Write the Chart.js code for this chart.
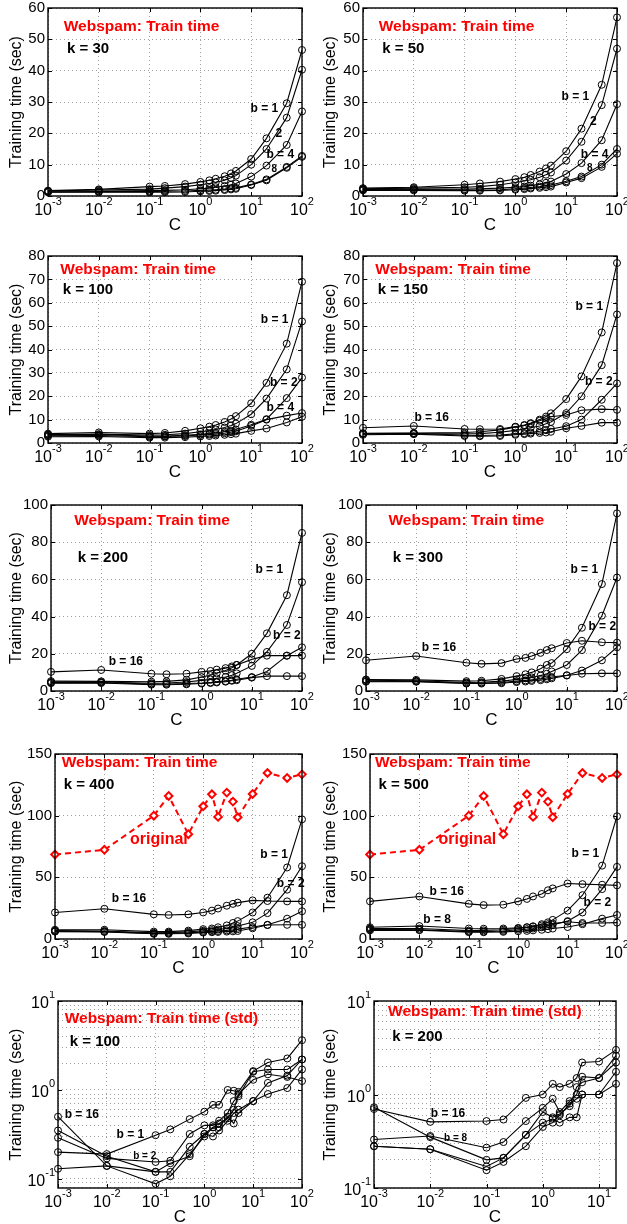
<!DOCTYPE html>
<html>
<head>
<meta charset="utf-8">
<script src="https://cdn.jsdelivr.net/npm/chart.js@4.4.1/dist/chart.umd.min.js"></script>
<style>
  body { margin: 0; background: #fff; width: 627px; height: 1224px; position: relative; overflow: hidden; }
  canvas { position: absolute; }
</style>
</head>
<body>
<script>
// ---- data ----
const C_VALUES = [0.001, 0.01, 0.1, 0.2, 0.5, 1, 1.5, 2, 3, 4, 5, 10, 20, 50, 100];
const C_VALUES_TO20 = [0.001, 0.01, 0.1, 0.2, 0.5, 1, 1.5, 2, 3, 4, 5, 10, 20];
const B_VALUES = [1, 2, 4, 8, 16];

// k = 30
const k30_b1  = [1.7, 2.1, 3.0, 3.2, 3.8, 4.5, 5.0, 5.5, 6.3, 7.2, 8.0, 11.8, 18.4, 29.6, 46.6];
const k30_b2  = [1.6, 1.9, 2.2, 2.5, 3.0, 3.6, 4.0, 4.3, 5.0, 5.8, 6.5, 10.0, 15.0, 25.0, 40.3];
const k30_b4  = [1.5, 1.6, 1.7, 1.8, 2.0, 2.3, 2.5, 2.8, 3.2, 3.6, 4.0, 6.2, 9.7, 16.3, 27.0];
const k30_b8  = [1.3, 1.4, 1.4, 1.5, 1.6, 1.8, 1.9, 2.0, 2.2, 2.4, 2.6, 3.7, 5.3, 9.3, 12.8];
const k30_b16 = [1.2, 1.2, 1.2, 1.2, 1.3, 1.5, 1.6, 1.7, 1.9, 2.1, 2.3, 3.5, 5.0, 9.0, 12.5];

// k = 50
const k50_b1  = [2.5, 2.8, 3.6, 4.0, 4.6, 5.4, 6.0, 6.7, 7.8, 8.8, 9.7, 14.3, 21.5, 35.5, 57.0];
const k50_b2  = [2.3, 2.5, 2.8, 3.0, 3.6, 4.3, 4.8, 5.2, 6.0, 6.8, 7.5, 11.3, 17.3, 29.0, 47.0];
const k50_b4  = [2.1, 2.2, 2.2, 2.3, 2.5, 2.8, 3.0, 3.3, 3.7, 4.2, 4.6, 7.0, 10.5, 17.8, 29.3];
const k50_b8  = [2.0, 2.0, 1.9, 1.9, 2.0, 2.3, 2.5, 2.7, 3.0, 3.3, 3.5, 4.7, 6.2, 10.0, 15.0];
const k50_b16 = [1.8, 1.8, 1.7, 1.7, 1.8, 2.0, 2.2, 2.4, 2.6, 2.8, 3.0, 4.3, 5.7, 9.3, 13.5];

// k = 100
const k100_b1  = [4.0, 4.5, 4.0, 4.3, 5.2, 6.3, 7.0, 7.7, 9.0, 10.3, 11.5, 17.0, 25.7, 42.5, 69.0];
const k100_b2  = [3.6, 3.8, 3.4, 3.5, 4.0, 4.8, 5.3, 5.8, 6.6, 7.5, 8.3, 12.3, 19.0, 31.5, 52.0];
const k100_b4  = [3.4, 3.5, 3.0, 3.0, 3.3, 3.7, 4.0, 4.3, 4.8, 5.3, 5.8, 7.8, 10.2, 19.2, 28.0];
const k100_b8  = [3.1, 3.2, 2.7, 2.8, 3.0, 3.4, 3.6, 3.8, 4.2, 4.6, 5.0, 7.3, 10.0, 11.7, 12.8];
const k100_b16 = [2.7, 2.8, 2.3, 2.3, 2.5, 2.8, 3.0, 3.2, 3.5, 3.8, 4.0, 5.2, 6.2, 8.8, 11.2];

// k = 150
const k150_b1  = [4.2, 4.3, 4.5, 4.8, 5.6, 6.8, 7.7, 8.5, 10.0, 11.3, 12.7, 18.8, 28.5, 47.3, 77.0];
const k150_b2  = [3.9, 3.9, 3.9, 4.0, 4.6, 5.4, 6.0, 6.5, 7.3, 8.2, 9.0, 12.8, 20.0, 33.3, 55.0];
const k150_b4  = [4.0, 4.2, 3.3, 3.2, 3.4, 3.9, 4.2, 4.5, 5.0, 5.5, 6.0, 7.2, 10.0, 18.5, 25.5];
const k150_b8  = [3.5, 3.8, 3.0, 2.9, 3.0, 3.5, 3.8, 4.0, 4.3, 4.5, 4.8, 6.3, 7.3, 8.7, 8.7];
const k150_b16 = [6.5, 7.3, 6.0, 5.9, 6.0, 7.0, 7.5, 8.2, 9.5, 10.5, 11.2, 12.0, 14.0, 14.5, 14.2];

// k = 200
const k200_b1  = [5.3, 5.2, 5.0, 5.2, 6.0, 7.5, 8.5, 9.5, 11.0, 12.5, 14.0, 20.0, 31.0, 51.5, 85.0];
const k200_b2  = [4.8, 4.8, 4.2, 4.3, 4.8, 5.7, 6.2, 6.8, 7.5, 8.5, 9.5, 13.5, 21.0, 35.5, 58.5];
const k200_b4  = [4.5, 4.5, 3.8, 3.8, 4.0, 4.3, 4.6, 4.9, 5.3, 5.8, 6.3, 7.5, 10.5, 19.0, 23.5];
const k200_b8  = [4.2, 4.3, 3.4, 3.4, 3.6, 4.0, 4.3, 4.6, 5.0, 5.5, 5.8, 7.2, 8.0, 8.0, 8.0];
const k200_b16 = [10.3, 11.3, 9.3, 9.0, 9.3, 10.3, 10.8, 11.5, 12.3, 13.2, 14.0, 17.0, 19.0, 19.0, 19.0];

// k = 300
const k300_b1  = [6.2, 6.0, 5.3, 5.5, 6.5, 8.0, 9.0, 10.0, 12.0, 14.0, 15.0, 22.5, 34.0, 57.5, 95.5];
const k300_b2  = [5.8, 5.5, 4.6, 4.7, 5.3, 6.2, 6.8, 7.3, 8.3, 9.3, 10.5, 14.0, 22.0, 40.5, 61.0];
const k300_b4  = [5.3, 5.2, 4.2, 4.3, 4.6, 5.3, 5.7, 6.0, 6.5, 7.0, 7.5, 8.5, 11.0, 16.5, 23.5];
const k300_b8  = [5.0, 5.0, 4.0, 4.0, 4.2, 4.8, 5.1, 5.4, 5.8, 6.3, 6.8, 8.3, 9.3, 9.5, 9.5];
const k300_b16 = [16.5, 18.8, 15.2, 14.6, 15.0, 17.2, 17.8, 18.8, 20.5, 22.0, 23.0, 25.8, 27.0, 26.2, 26.0];

// k = 400
const k400_b1  = [7.5, 7.5, 6.0, 6.0, 6.8, 8.0, 8.5, 9.5, 11.0, 13.0, 14.5, 21.5, 33.5, 58.0, 97.0];
const k400_b2  = [6.8, 6.5, 5.0, 5.2, 5.8, 6.7, 7.2, 7.7, 8.5, 9.5, 10.5, 13.5, 21.0, 40.0, 59.0];
const k400_b4  = [6.3, 6.0, 4.5, 4.6, 5.0, 5.8, 6.2, 6.5, 7.0, 7.5, 8.0, 9.7, 11.5, 16.5, 22.5];
const k400_b8  = [6.0, 5.7, 4.2, 4.2, 4.5, 5.2, 5.5, 5.7, 6.0, 6.2, 6.5, 8.7, 11.3, 11.5, 11.5];
const k400_b16 = [21.5, 24.5, 20.0, 19.5, 20.0, 21.5, 23.0, 24.7, 27.0, 28.5, 29.5, 31.3, 30.8, 30.5, 30.5];

// k = 500
const k500_b1  = [8.5, 8.5, 6.8, 7.0, 7.5, 8.5, 9.5, 10.3, 12.0, 13.5, 15.5, 23.0, 35.5, 59.5, 99.5];
const k500_b2  = [7.8, 7.5, 6.0, 6.0, 6.5, 7.5, 8.0, 8.5, 9.5, 10.5, 11.5, 14.5, 21.5, 40.5, 58.5];
const k500_b4  = [7.0, 7.2, 5.5, 5.5, 5.8, 6.3, 6.6, 7.0, 7.5, 8.0, 8.5, 9.7, 12.0, 16.5, 19.5];
const k500_b8  = [9.5, 10.5, 8.5, 8.3, 8.5, 9.0, 9.5, 10.0, 11.0, 12.0, 12.5, 14.0, 13.0, 13.0, 13.3];
const k500_b16 = [30.5, 34.5, 28.5, 27.5, 27.8, 30.5, 32.5, 34.5, 36.5, 39.5, 41.0, 45.0, 44.5, 44.0, 43.5];

// original (no hashing), shown in k = 400 and k = 500 panels
const original = [68.5, 72.3, 100, 116, 85, 107.6, 117.3, 99, 118.7, 111.4, 98.7, 117.6, 134.6, 130.6, 133.5];

// std, k = 100
const std100_b1  = [0.2, 0.19, 0.31, 0.36, 0.47, 0.57, 0.68, 0.68, 1.0, 0.98, 0.95, 1.63, 2.04, 2.26, 3.63];
const std100_b2  = [0.29, 0.17, 0.155, 0.16, 0.32, 0.4, 0.4, 0.45, 0.55, 0.75, 0.85, 1.6, 1.7, 1.7, 2.2];
const std100_b4  = [0.35, 0.18, 0.12, 0.12, 0.23, 0.32, 0.38, 0.38, 0.5, 0.42, 0.55, 0.75, 0.9, 1.05, 1.7];
const std100_b8  = [0.13, 0.14, 0.12, 0.15, 0.18, 0.32, 0.3, 0.35, 0.45, 0.55, 0.6, 0.75, 1.2, 1.45, 2.2];
const std100_b16 = [0.5, 0.14, 0.088, 0.107, 0.19, 0.30, 0.38, 0.42, 0.48, 0.6, 0.9, 1.3, 1.5, 1.4, 1.26];

// std, k = 200 (C up to 20)
const std200_b1  = [0.73, 0.35, 0.2, 0.21, 0.37, 0.65, 0.57, 0.62, 0.75, 1.2, 1.35, 1.5, 2.2];
const std200_b2  = [0.28, 0.26, 0.17, 0.21, 0.37, 0.5, 0.55, 0.5, 0.57, 0.57, 1.0, 1.0, 1.75];
const std200_b4  = [0.28, 0.26, 0.155, 0.19, 0.28, 0.45, 0.5, 0.6, 0.8, 0.9, 1.0, 1.0, 1.3];
const std200_b8  = [0.33, 0.36, 0.27, 0.31, 0.52, 0.72, 0.9, 0.65, 0.85, 1.0, 1.55, 1.5, 2.6];
const std200_b16 = [0.7, 0.51, 0.52, 0.54, 0.92, 1.0, 1.3, 1.2, 1.3, 1.5, 2.2, 2.25, 3.0];

const TITLE = 'Webspam: Train time';
const TITLE_STD = 'Webspam: Train time (std)';
const Y_TITLE = 'Training time (sec)';
const X_TITLE = 'C';

// ---- panels: layout + labels (label positions in data units) ----
const panels = [
  { col: 0, rect: [48, 8, 302, 196], x: C_VALUES, series: [k30_b1, k30_b2, k30_b4, k30_b8, k30_b16], yMax: 60, step: 10,
    notes: [['title', TITLE, 0.00204, 53.9], ['k', 'k = 30', 0.00237, 46.9], ['b', 'b = 1', 9.7, 28],
            ['b', '2', 30, 20], ['b', 'b = 4', 19.9, 13.2], ['bs', '8', 25, 8.4]] },
  { col: 1, rect: [363, 8, 617, 196], x: C_VALUES, series: [k50_b1, k50_b2, k50_b4, k50_b8, k50_b16], yMax: 60, step: 10,
    notes: [['title', TITLE, 0.00204, 53.9], ['k', 'k = 50', 0.0024, 46.9], ['b', 'b = 1', 8.1, 31.7],
            ['b', '2', 29.3, 23.7], ['b', 'b = 4', 19.4, 13.3], ['bs', '8', 25.6, 8.8]] },
  { col: 0, rect: [48, 256, 302, 443], x: C_VALUES, series: [k100_b1, k100_b2, k100_b4, k100_b8, k100_b16], yMax: 80, step: 10,
    notes: [['title', TITLE, 0.00175, 74.3], ['k', 'k = 100', 0.00195, 65.5], ['b', 'b = 1', 15.5, 52.7],
            ['b', 'b = 2', 23.4, 25.9], ['b', 'b = 4', 19.9, 14.9]] },
  { col: 1, rect: [363, 256, 617, 443], x: C_VALUES, series: [k150_b1, k150_b2, k150_b4, k150_b8, k150_b16], yMax: 80, step: 10,
    notes: [['title', TITLE, 0.00175, 74.3], ['k', 'k = 150', 0.00195, 65.5], ['b', 'b = 1', 15.2, 58.4],
            ['b', 'b = 2', 23.4, 26.3], ['b', 'b = 16', 0.0103, 10.7]] },
  { col: 0, rect: [51, 505, 302, 691], x: C_VALUES, series: [k200_b1, k200_b2, k200_b4, k200_b8, k200_b16], yMax: 100, step: 20,
    notes: [['title', TITLE, 0.0029, 91.4], ['k', 'k = 200', 0.0034, 71.6], ['b', 'b = 1', 11.8, 65.4],
            ['b', 'b = 2', 26.4, 29.6], ['b', 'b = 16', 0.0141, 15.6]] },
  { col: 1, rect: [366, 505, 617, 691], x: C_VALUES, series: [k300_b1, k300_b2, k300_b4, k300_b8, k300_b16], yMax: 100, step: 20,
    notes: [['title', TITLE, 0.0028, 91.4], ['k', 'k = 300', 0.0034, 71.6], ['b', 'b = 1', 11.8, 65.4],
            ['b', 'b = 2', 27, 34.5], ['b', 'b = 16', 0.0129, 23.3]] },
  { col: 0, rect: [55, 754, 302, 939], x: C_VALUES, series: [k400_b1, k400_b2, k400_b4, k400_b8, k400_b16], yMax: 150, step: 50, orig: true,
    notes: [['title', TITLE, 0.00137, 143], ['k', 'k = 400', 0.00151, 124.9], ['orig', 'original', 0.033, 80.9],
            ['b', 'b = 1', 14.3, 68.2], ['b', 'b = 2', 31, 44.5], ['b', 'b = 16', 0.0141, 32.4]] },
  { col: 1, rect: [370, 754, 617, 939], x: C_VALUES, series: [k500_b1, k500_b2, k500_b4, k500_b8, k500_b16], yMax: 150, step: 50, orig: true,
    notes: [['title', TITLE, 0.00126, 143], ['k', 'k = 500', 0.00148, 124.9], ['orig', 'original', 0.0244, 80.9],
            ['b', 'b = 1', 12, 69], ['b', 'b = 2', 21, 29.7], ['b', 'b = 16', 0.016, 38], ['b', 'b = 8', 0.012, 15.6]] },
  { col: 0, rect: [58, 1001, 302, 1188], x: C_VALUES, series: [std100_b1, std100_b2, std100_b4, std100_b8, std100_b16], log: true, yMin: 0.079, yMax: 10,
    notes: [['title', TITLE_STD, 0.00137, 6.34], ['k', 'k = 100', 0.00174, 3.47], ['b', 'b = 16', 0.00137, 0.525],
            ['b', 'b = 1', 0.0158, 0.313], ['bs', 'b = 2', 0.0347, 0.179]] },
  { col: 1, rect: [374, 1001, 616, 1188], x: C_VALUES_TO20, series: [std200_b1, std200_b2, std200_b4, std200_b8, std200_b16], log: true, yMin: 0.1, yMax: 10,
    notes: [['title', TITLE_STD, 0.00178, 7.73], ['k', 'k = 200', 0.0021, 4.12], ['b', 'b = 16', 0.0102, 0.627],
            ['bs', 'b = 8', 0.0176, 0.34]] }
];

// ---- drawing ----
const FONT = '"Liberation Sans", Arial, Helvetica, sans-serif';
Chart.defaults.font.family = FONT;
Chart.defaults.color = '#000';
Chart.defaults.animation = false;

const COLS = [[0, 314], [314, 313]];
const PAD_TOP = 10, X_AXIS_H = 42;

const NOTE_STYLE = {
  title: ['bold 15.5px', '#ff0000'],
  k:     ['bold 15px', '#000'],
  b:     ['bold 12px', '#000'],
  bs:    ['bold 10px', '#000'],
  orig:  ['bold 16px', '#ff0000']
};

function decades(min, max) {
  const out = [];
  for (let e = Math.floor(Math.log10(min)); e <= Math.ceil(Math.log10(max)); e++) {
    const v = Math.pow(10, e);
    if (v >= min * 0.999 && v <= max * 1.001) out.push(v);
  }
  return out;
}
function logGrid(min, max) {
  const out = [];
  for (let e = Math.floor(Math.log10(min)); e <= Math.ceil(Math.log10(max)); e++) {
    for (let m = 1; m <= 9; m++) {
      const v = m * Math.pow(10, e);
      if (v >= min * 0.999 && v <= max * 1.001) out.push(v);
    }
  }
  return out;
}

// "10" with a raised exponent
function drawPow(ctx, e, x, y, align) {
  const sup = String(e);
  ctx.font = '16px ' + FONT;
  const wb = ctx.measureText('10').width;
  ctx.font = '11px ' + FONT;
  const ws = ctx.measureText(sup).width;
  const x0 = align === 'center' ? x - (wb + ws) / 2 : x - (wb + ws);
  ctx.textAlign = 'left';
  ctx.textBaseline = 'middle';
  ctx.font = '16px ' + FONT;
  ctx.fillText('10', x0, y);
  ctx.font = '11px ' + FONT;
  ctx.fillText(sup, x0 + wb, y - 9);
}

const matlabAxes = {
  id: 'matlabAxes',
  afterDraw(chart) {
    const p = chart.options.plugins.matlabAxes;
    const {ctx, chartArea: a, scales} = chart;
    const xs = scales.x, ys = scales.y;
    ctx.save();
    ctx.fillStyle = '#000';
    ctx.strokeStyle = '#000';
    ctx.lineWidth = 1;
    // inward tick marks
    ctx.beginPath();
    decades(xs.min, xs.max).forEach(v => {
      const px = Math.round(xs.getPixelForValue(v)) + 0.5;
      ctx.moveTo(px, a.bottom); ctx.lineTo(px, a.bottom - 4);
      ctx.moveTo(px, a.top); ctx.lineTo(px, a.top + 4);
    });
    const yTicks = p.log ? decades(ys.min, ys.max) : ys.ticks.map(t => t.value);
    yTicks.forEach(v => {
      const py = Math.round(ys.getPixelForValue(v)) + 0.5;
      ctx.moveTo(a.left, py); ctx.lineTo(a.left + 4, py);
      ctx.moveTo(a.right, py); ctx.lineTo(a.right - 4, py);
    });
    ctx.stroke();
    // box
    ctx.lineWidth = 1.4;
    ctx.strokeRect(a.left, a.top, a.right - a.left, a.bottom - a.top);
    // x tick labels
    decades(xs.min, xs.max).forEach(v => {
      drawPow(ctx, Math.round(Math.log10(v)), xs.getPixelForValue(v), a.bottom + 15, 'center');
    });
    // y tick labels for log axes
    if (p.log) {
      decades(ys.min, ys.max).forEach(v => {
        drawPow(ctx, Math.round(Math.log10(v)), a.left - 3, ys.getPixelForValue(v) + 3, 'right');
      });
    }
    // text notes
    ctx.textAlign = 'left';
    ctx.textBaseline = 'middle';
    p.notes.forEach(([kind, text, nx, ny]) => {
      const [font, color] = NOTE_STYLE[kind];
      ctx.font = font + ' ' + FONT;
      ctx.fillStyle = color;
      ctx.fillText(text, xs.getPixelForValue(nx), ys.getPixelForValue(ny));
    });
    ctx.restore();
  }
};

panels.forEach(pn => {
  const [colX, colW] = COLS[pn.col];
  const [l, t, r, b] = pn.rect;
  const padTop = Math.min(PAD_TOP, t);
  const canvas = document.createElement('canvas');
  canvas.width = colW;
  canvas.height = padTop + (b - t) + X_AXIS_H;
  canvas.style.left = colX + 'px';
  canvas.style.top = (t - padTop) + 'px';
  document.body.appendChild(canvas);

  const datasets = pn.series.map((vals, i) => ({
    label: 'b = ' + B_VALUES[i],
    data: pn.x.map((c, j) => ({x: c, y: vals[j]})),
    borderColor: '#000',
    borderWidth: 1.1,
    pointRadius: 3.5,
    pointBorderWidth: 1,
    pointBorderColor: '#000',
    pointBackgroundColor: 'rgba(0,0,0,0)',
    tension: 0,
    clip: false
  }));
  if (pn.orig) {
    datasets.push({
      label: 'original',
      data: pn.x.map((c, j) => ({x: c, y: original[j]})),
      borderColor: '#ff0000',
      borderWidth: 2,
      borderDash: [6, 4],
      pointStyle: 'rectRot',
      pointRadius: 3.8,
      pointBorderWidth: 2,
      pointBorderColor: '#ff0000',
      pointBackgroundColor: '#ffffff',
      tension: 0,
      clip: false
    });
  }

  const xMin = pn.x[0], xMax = pn.x[pn.x.length - 1];
  const gridStyle = { color: '#a0a0a0', lineWidth: 1, drawTicks: false };
  const dotted = { display: false, dash: [1, 3] };

  const yScale = pn.log ? {
    type: 'logarithmic', min: pn.yMin, max: pn.yMax,
    afterBuildTicks: s => { s.ticks = logGrid(pn.yMin, pn.yMax).map(v => ({value: v})); },
    ticks: { display: false }
  } : {
    type: 'linear', min: 0, max: pn.yMax,
    ticks: { stepSize: pn.step, autoSkip: false, padding: 3, font: {size: 15}, color: '#000' }
  };
  Object.assign(yScale, {
    grid: gridStyle, border: dotted,
    title: { display: true, text: Y_TITLE, font: {size: 16}, padding: {top: 7, bottom: 0} },
    afterFit: s => { s.width = l - colX; s.paddingTop = 0; s.paddingBottom = 0; }
  });

  new Chart(canvas, {
    type: 'line',
    data: { datasets },
    plugins: [matlabAxes],
    options: {
      responsive: false,
      events: [],
      layout: { padding: { top: padTop, right: colX + colW - r, left: 0, bottom: 0 } },
      plugins: {
        legend: { display: false },
        tooltip: { enabled: false },
        matlabAxes: { notes: pn.notes, log: !!pn.log }
      },
      scales: {
        x: {
          type: 'logarithmic', min: xMin, max: xMax,
          afterBuildTicks: s => { s.ticks = decades(xMin, xMax).map(v => ({value: v})); },
          ticks: { display: false },
          grid: gridStyle, border: dotted,
          title: { display: true, text: X_TITLE, font: {size: 17}, padding: {top: 0, bottom: 2} },
          afterFit: s => { s.height = X_AXIS_H; s.paddingLeft = 0; s.paddingRight = 0; }
        },
        y: yScale
      }
    }
  });
});
</script>
</body>
</html>
